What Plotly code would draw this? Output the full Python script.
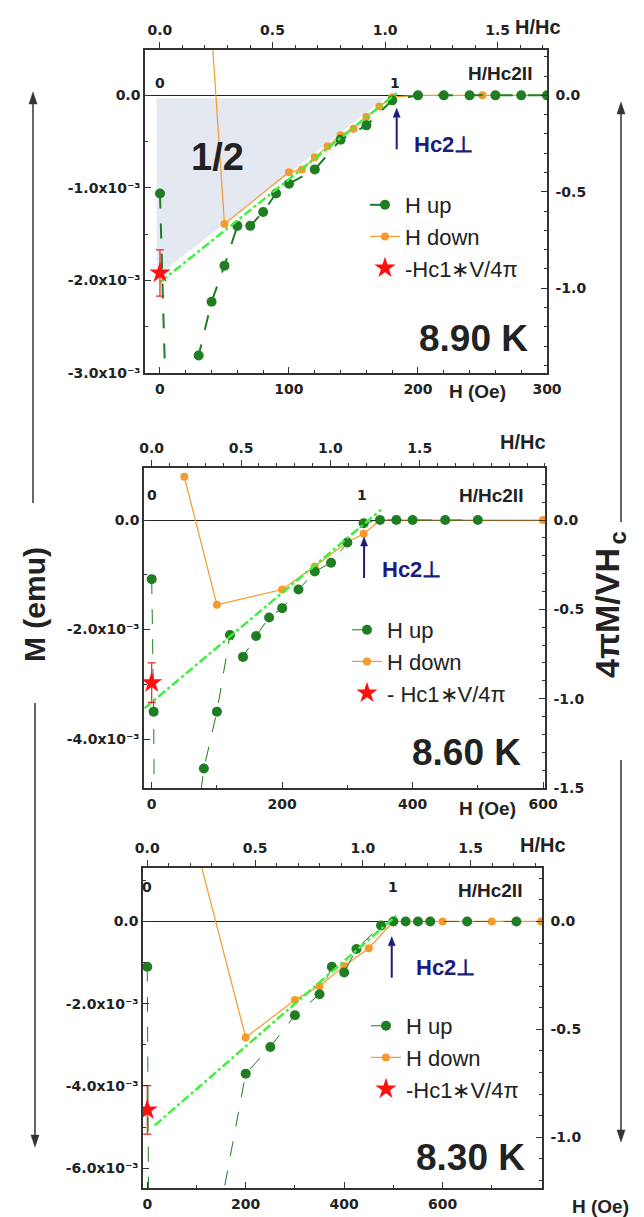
import plotly.graph_objects as go

# ---------------- data (H in Oe, M in units of 1e-3 emu) ----------------
# 8.90 K
H_UP_890 = [0, 10, 25, 30, 40, 50, 60, 70, 80, 90, 100, 120, 140, 160, 180, 200, 220, 240, 260, 280, 300]
M_UP_890 = [-1.06, -6.0, -3.6, -2.81, -2.23, -1.84, -1.41, -1.41, -1.26, -1.06, -0.955, -0.80, -0.48, -0.324, -0.054, 0, 0, 0, 0, 0, 0]
H_DN_890 = [40, 50, 100, 110, 120, 130, 140, 150, 160, 170, 180, 200, 250, 300]
M_DN_890 = [0.7, -1.39, -0.83, -0.80, -0.67, -0.55, -0.43, -0.36, -0.23, -0.12, -0.02, 0, 0, 0]
H_FIT_890 = [0, 184]
M_FIT_890 = [-2.02, 0.03]
H_SHADE_890 = [-2.6, 174, -2.6]
M_SHADE_890 = [-0.03, -0.03, -1.96]
H_STAR_890 = [0]
M_STAR_890 = [-1.92]
E_STAR_890 = [0.25]

# 8.60 K
H_UP_860 = [0, 3, 6, 70, 80, 100, 120, 140, 160, 180, 200, 225, 250, 275, 300, 325, 350, 375, 400, 450, 500]
M_UP_860 = [-1.08, -3.50, -9.0, -5.45, -4.54, -3.50, -2.10, -2.50, -2.12, -1.78, -1.61, -1.27, -0.94, -0.78, -0.41, -0.06, 0, 0, 0, 0, 0]
H_DN_860 = [50, 100, 200, 250, 300, 325, 350, 400, 600]
M_DN_860 = [0.79, -1.55, -1.27, -0.85, -0.40, -0.25, 0, 0, 0]
H_FIT_860 = [-11, 352]
M_FIT_860 = [-3.44, 0.19]
H_STAR_860 = [0]
M_STAR_860 = [-2.97]
E_STAR_860 = [0.36]

# 8.30 K
H_UP_830 = [0, 5, 150, 200, 250, 300, 350, 375, 400, 425, 475, 500, 525, 550, 575, 650, 750]
M_UP_830 = [-1.10, -12.0, -6.9, -3.70, -3.05, -2.28, -1.77, -1.10, -1.24, -0.67, -0.10, 0, 0, 0, 0, 0, 0]
H_DN_830 = [100, 200, 300, 350, 400, 450, 500, 600, 700, 800]
M_DN_830 = [1.8, -2.82, -1.91, -1.57, -1.08, -0.65, 0, 0, 0, 0]
H_FIT_830 = [15, 506]
M_FIT_830 = [-4.96, 0.14]
H_STAR_830 = [0]
M_STAR_830 = [-4.58]
E_STAR_830 = [0.59]

TEMPS = ["8.90 K", "8.60 K", "8.30 K"]
STAR_LABELS = ["-Hc1\u2217V/4\u03c0", "- Hc1\u2217V/4\u03c0", "-Hc1\u2217V/4\u03c0"]
SUP = "x10\u207b\u00b3"

# ---------------- layout configuration ----------------
W, HT = 644, 1217
FONT = "Liberation Sans, Arial, sans-serif"
TFONT = "DejaVu Sans, Liberation Sans, sans-serif"
DARK = "#222222"
GREEN = "#1f7d22"
ORANGE = "#f59a2c"
LIME = "#3ff03f"
NAVY = "#1c1c7e"


def e3(v):
    return [a * 1e-3 for a in v]


def px(x):
    return x / W


def py(y):
    return 1 - y / HT


panels = [
    dict(up=(H_UP_890, M_UP_890), dn=(H_DN_890, M_DN_890), fit=(H_FIT_890, M_FIT_890),
         star=(H_STAR_890, M_STAR_890, E_STAR_890), shade=(H_SHADE_890, M_SHADE_890),
         box=(145, 547, 50, 373), xr=(-11.6, 300), yr=(-3.0, 0.49), hc=174.5, k=480,
         xt=[0, 100, 200, 300], xminor=20,
         yt=[0, -1, -2, -3], ytt=["0.0", "-1.0" + SUP, "-2.0" + SUP, "-3.0" + SUP], yminor=0.5,
         rt=[0, -0.5, -1.0], rtt=["0.0", "-0.5", "-1.0"],
         up_w=2, hc2=182, arrow_h=183.5, arrow_m=-0.14,
         hc2_lbl=(443, 144), temp=(473, 338), hoe=(477, 392), hhc=(538, 27), hhc2=(500, 73), inner_y=73,
         leg=(365, 184)),
    dict(up=(H_UP_860, M_UP_860), dn=(H_DN_860, M_DN_860), fit=(H_FIT_860, M_FIT_860),
         star=(H_STAR_860, M_STAR_860, E_STAR_860), shade=None,
         box=(144, 545, 468, 788), xr=(-11.8, 603), yr=(-4.895, 0.95), hc=274, k=306.4,
         xt=[0, 200, 400, 600], xminor=100,
         yt=[0, -2, -4], ytt=["0.0", "-2.0" + SUP, "-4.0" + SUP], yminor=1,
         rt=[0, -0.5, -1.0, -1.5], rtt=["0.0", "-0.5", "-1.0", "-1.5"],
         up_w=1, hc2=323, arrow_h=325.6, arrow_m=-0.31,
         hc2_lbl=(411, 570), temp=(467, 752), hoe=(487, 808), hhc=(523, 442), hhc2=(491, 495), inner_y=495,
         leg=(347, 609)),
    dict(up=(H_UP_830, M_UP_830), dn=(H_DN_830, M_DN_830), fit=(H_FIT_830, M_FIT_830),
         star=(H_STAR_830, M_STAR_830, E_STAR_830), shade=None,
         box=(143, 542, 868, 1188), xr=(-8.7, 802), yr=(-6.48, 1.30), hc=438, k=190.7,
         xt=[0, 200, 400, 600], xminor=100,
         yt=[0, -2, -4, -6], ytt=["0.0", "-2.0" + SUP, "-4.0" + SUP, "-6.0" + SUP], yminor=1,
         rt=[0, -0.5, -1.0], rtt=["0.0", "-0.5", "-1.0"],
         up_w=1, hc2=499, arrow_h=496.7, arrow_m=-0.37,
         hc2_lbl=(445, 967), temp=(470, 1157), hoe=(600, 1206), hhc=(543, 845), hhc2=(490, 890), inner_y=897,
         leg=(366, 1005)),
]

fig = go.Figure()
annotations = []
shapes = []
layout = dict(template="none", width=W, height=HT, margin=dict(l=0, r=0, t=0, b=0, pad=0),
              autosize=False, paper_bgcolor="white", plot_bgcolor="rgba(0,0,0,0)", showlegend=True,
              font=dict(family=FONT, color=DARK))

tickfont = dict(family=TFONT, size=14, color=DARK, weight="bold")


def ann(text, x, y, size, bold=True, color=DARK, xanchor="center", yanchor="middle", angle=0,
        xref="paper", yref="paper"):
    annotations.append(dict(text=text, x=x, y=y, xref=xref, yref=yref, showarrow=False,
                            xanchor=xanchor, yanchor=yanchor, textangle=angle,
                            font=dict(family=FONT, size=size, color=color,
                                      weight="bold" if bold else "normal")))


def arrow(xref, yref, x, tip, tail, sx, sy, color, width, head_w=4.5, head_l=11):
    """vertical arrow; sx, sy = pixels per unit of xref / yref."""
    d = 1 if tail < tip else -1  # +1: points upward
    base = tip - d * head_l / sy
    shapes.append(dict(type="line", xref=xref, yref=yref, x0=x, x1=x, y0=tail, y1=base,
                       line=dict(color=color, width=width), layer="above"))
    hw = head_w / sx
    shapes.append(dict(type="path", xref=xref, yref=yref,
                       path=f"M {x} {tip} L {x - hw} {base} L {x + hw} {base} Z",
                       fillcolor=color, line=dict(color=color, width=0.5), layer="above"))


for i, p in enumerate(panels):
    nb, nt = 2 * i + 1, 2 * i + 2
    xb = "x" if nb == 1 else f"x{nb}"
    yl = "y" if nb == 1 else f"y{nb}"
    xt_, yr_ = f"x{nt}", f"y{nt}"
    kxb = "xaxis" if nb == 1 else f"xaxis{nb}"
    kyl = "yaxis" if nb == 1 else f"yaxis{nb}"
    kxt, kyr = f"xaxis{nt}", f"yaxis{nt}"
    x0, x1, y0, y1 = p["box"]
    dom_x = [px(x0), px(x1)]
    dom_y = [py(y1), py(y0)]
    yr = [p["yr"][0] * 1e-3, p["yr"][1] * 1e-3]
    leg = "legend" if i == 0 else f"legend{i + 1}"

    axline = dict(showline=True, linecolor="#333333", linewidth=1.5, showgrid=False,
                  mirror=False, automargin=False)
    layout[kxb] = dict(domain=dom_x, range=list(p["xr"]), anchor=yl, zeroline=False,
                       tickvals=p["xt"], ticktext=[str(v) for v in p["xt"]], ticks="inside", ticklen=6,
                       tickcolor="#333", tickfont=tickfont, ticklabelstandoff=2,
                       minor=dict(dtick=p["xminor"], ticks="inside", ticklen=3, tickcolor="#333"),
                       **axline)
    layout[kyl] = dict(domain=dom_y, range=yr, anchor=xb, zeroline=True, zerolinecolor="#222",
                       zerolinewidth=1, tickvals=[v * 1e-3 for v in p["yt"]], ticktext=p["ytt"],
                       ticks="inside", ticklen=6, tickcolor="#333", tickfont=tickfont,
                       minor=dict(dtick=p["yminor"] * 1e-3, ticks="inside", ticklen=3, tickcolor="#333"),
                       **axline)
    layout[kxt] = dict(domain=dom_x, range=[p["xr"][0] / p["hc"], p["xr"][1] / p["hc"]],
                       overlaying=xb, side="top", anchor=yl, zeroline=False,
                       tickvals=[0, 0.5, 1.0, 1.5], ticktext=["0.0", "0.5", "1.0", "1.5"],
                       ticks="outside", ticklen=6, tickcolor="#333", tickfont=tickfont,
                       ticklabelstandoff=2,
                       minor=dict(dtick=0.1, ticks="outside", ticklen=3, tickcolor="#333"),
                       **axline)
    layout[kyr] = dict(domain=dom_y, range=[yr[0] * p["k"], yr[1] * p["k"]],
                       overlaying=yl, side="right", anchor=xb, zeroline=False,
                       tickvals=p["rt"], ticktext=p["rtt"], ticks="inside", ticklen=6,
                       tickcolor="#333", tickfont=tickfont, ticklabelstandoff=4,
                       minor=dict(dtick=0.1, ticks="inside", ticklen=3, tickcolor="#333"),
                       **axline)

    # dummy trace so that the secondary (top / right) axes are drawn
    fig.add_trace(go.Scatter(x=[0], y=[0], xaxis=xt_, yaxis=yr_, mode="markers",
                             marker=dict(size=1, opacity=0), showlegend=False, hoverinfo="skip"))

    if p["shade"] is not None:
        fig.add_trace(go.Scatter(x=p["shade"][0], y=e3(p["shade"][1]), xaxis=xb, yaxis=yl,
                                 mode="lines", fill="toself", fillcolor="#e3e8f1",
                                 line=dict(width=0, color="#e3e8f1"), showlegend=False,
                                 hoverinfo="skip"))

    fig.add_trace(go.Scatter(x=p["dn"][0], y=e3(p["dn"][1]), xaxis=xb, yaxis=yl,
                             mode="lines+markers", name="H down", legend=leg, legendrank=2,
                             line=dict(color=ORANGE, width=1.2),
                             marker=dict(color=ORANGE, size=8, symbol="circle")))
    fig.add_trace(go.Scatter(x=p["up"][0], y=e3(p["up"][1]), xaxis=xb, yaxis=yl,
                             mode="lines+markers", name="H up", legend=leg, legendrank=1,
                             line=dict(color=GREEN, width=p["up_w"], dash="longdash"),
                             marker=dict(color=GREEN, size=10, symbol="circle")))
    fig.add_trace(go.Scatter(x=p["fit"][0], y=e3(p["fit"][1]), xaxis=xb, yaxis=yl,
                             mode="lines", showlegend=False, hoverinfo="skip",
                             line=dict(color=LIME, width=2.5, dash="dashdot")))
    fig.add_trace(go.Scatter(x=p["star"][0], y=e3(p["star"][1]), xaxis=xb, yaxis=yl,
                             mode="markers", name=STAR_LABELS[i], legend=leg, legendrank=3,
                             marker=dict(color="#ff1010", size=16, symbol="star"),
                             error_y=dict(type="data", array=e3(p["star"][2]), visible=True,
                                          color="#e02828", thickness=1.2, width=4)))

    layout[leg] = dict(x=px(p["leg"][0]), y=py(p["leg"][1]), xanchor="left", yanchor="top",
                       bgcolor="rgba(0,0,0,0)", font=dict(family=FONT, size=22, color=DARK),
                       tracegroupgap=0, itemsizing="trace")

    # Hc2 perpendicular arrow (data coordinates)
    sx = (x1 - x0) / (p["xr"][1] - p["xr"][0])
    sy = (y1 - y0) / (yr[1] - yr[0])
    tip = p["arrow_m"] * 1e-3
    arrow(xb, yl, p["arrow_h"], tip, tip - 41 / sy, sx, sy, NAVY, 2, head_w=3.5, head_l=9)

    ann("Hc2\u22a5", px(p["hc2_lbl"][0]), py(p["hc2_lbl"][1]), 22, color=NAVY)
    ann(TEMPS[i], px(p["temp"][0]), py(p["temp"][1]), 37)
    ann("H (Oe)", px(p["hoe"][0]), py(p["hoe"][1]), 19)
    ann("H/Hc", px(p["hhc"][0]), py(p["hhc"][1]), 20)
    ann("H/Hc2II", px(p["hhc2"][0]), py(p["hhc2"][1]), 19)
    # inner H/Hc2|| scale labels
    for val, txt in [(0, "0"), (p["hc2"], "1")]:
        annotations.append(dict(text=txt, x=val, y=py(p["inner_y"]), xref=xb, yref="paper",
                                showarrow=False,
                                font=dict(family=TFONT, size=14, color=DARK, weight="bold")))

ann("1/2", px(217), py(157), 38)

# outer axis titles with arrows
ann("M (emu)", px(35), py(605), 30, angle=-90)
ann("4\u03c0M/VH", px(607), py(546), 34, angle=-90, yanchor="top")
ann("c", px(617), py(547), 24, angle=-90, yanchor="bottom")
for (xx, tip, tail) in [(33, 92, 503), (35, 1147, 703), (621, 102, 522), (621, 1142, 760)]:
    arrow("paper", "paper", px(xx), py(tip), py(tail), W, HT, "#333333", 1.5, head_w=4, head_l=12)

layout["annotations"] = annotations
layout["shapes"] = shapes
fig.update_layout(**layout)
fig.write_html("out.html", config={"displayModeBar": False},
               post_script="document.body.style.margin='0';document.body.style.overflow='hidden';")
